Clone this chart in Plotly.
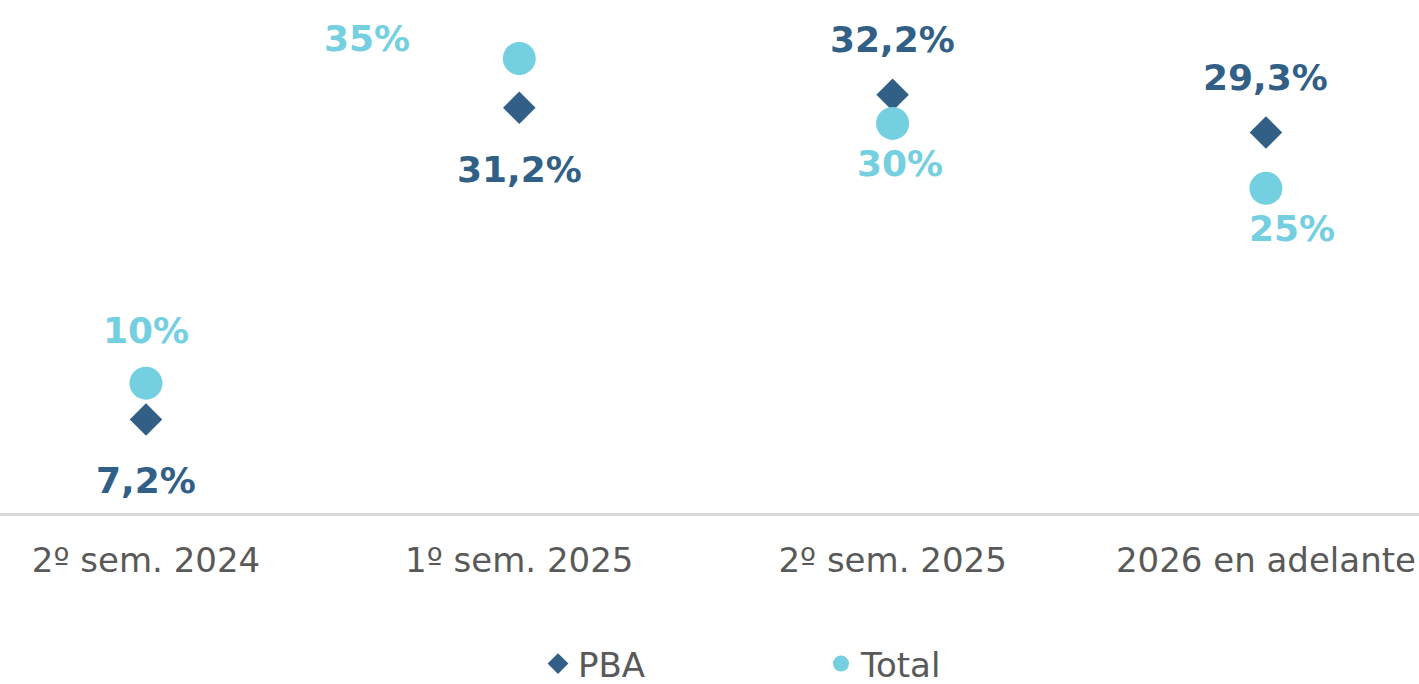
import plotly.graph_objects as go

categories = ["2º sem. 2024", "1º sem. 2025", "2º sem. 2025", "2026 en adelante"]
pba = [7.2, 31.2, 32.2, 29.3]
total = [10, 35, 30, 25]

# label offsets (px) relative to marker
pba_shift = [(0, -61), (0, -62), (0, 55), (0, 55)]
total_shift = [(0, 53), (-152, 20), (7, -40), (26, -40)]

PBA_COLOR = "#325F85"
TOTAL_COLOR = "#74CFE0"
FONT = "DejaVu Sans"

fig = go.Figure()
fig.add_trace(go.Scatter(
    x=categories, y=pba, mode="markers", name="PBA",
    marker=dict(symbol="diamond", size=25, color=PBA_COLOR),
    hoverinfo="skip"))
fig.add_trace(go.Scatter(
    x=categories, y=total, mode="markers", name="Total",
    marker=dict(symbol="circle", size=33, color=TOTAL_COLOR),
    hoverinfo="skip"))

for c, v, (dx, dy) in zip(categories, pba, pba_shift):
    fig.add_annotation(x=c, y=v, text=f"{v:.1f}".replace(".", ",") + "%",
                       showarrow=False, xshift=dx, yshift=dy,
                       font=dict(family=FONT, size=36, color=PBA_COLOR, weight="bold"))
for c, v, (dx, dy) in zip(categories, total, total_shift):
    fig.add_annotation(x=c, y=v, text=f"{v:.0f}%",
                       showarrow=False, xshift=dx, yshift=dy,
                       font=dict(family=FONT, size=36, color=TOTAL_COLOR, weight="bold"))

fig.update_layout(
    width=1419, height=684,
    margin=dict(l=0, r=0, t=0, b=171),
    plot_bgcolor="white", paper_bgcolor="white",
    font=dict(family=FONT, size=34, color="#595959"),
    showlegend=True,
    legend=dict(orientation="h", xref="container", yref="container",
                x=538 / 1419, xanchor="left", y=1 - 664 / 684, yanchor="middle",
                entrywidth=238, entrywidthmode="pixels",
                font=dict(family=FONT, size=34, color="#595959"),
                itemclick=False, itemdoubleclick=False),
    xaxis=dict(type="category", range=[-0.391, 3.41], showgrid=False,
               showline=True, linecolor="#D9D9D9", linewidth=3,
               ticks="", ticklabelstandoff=15, zeroline=False,
               tickfont=dict(family=FONT, size=34, color="#595959")),
    yaxis=dict(range=[0, 39.5], visible=False, showgrid=False, zeroline=False),
)

fig.write_html("out.html", config={"displayModeBar": False},
               post_script="document.body.style.margin='0';document.body.style.overflow='hidden';")
